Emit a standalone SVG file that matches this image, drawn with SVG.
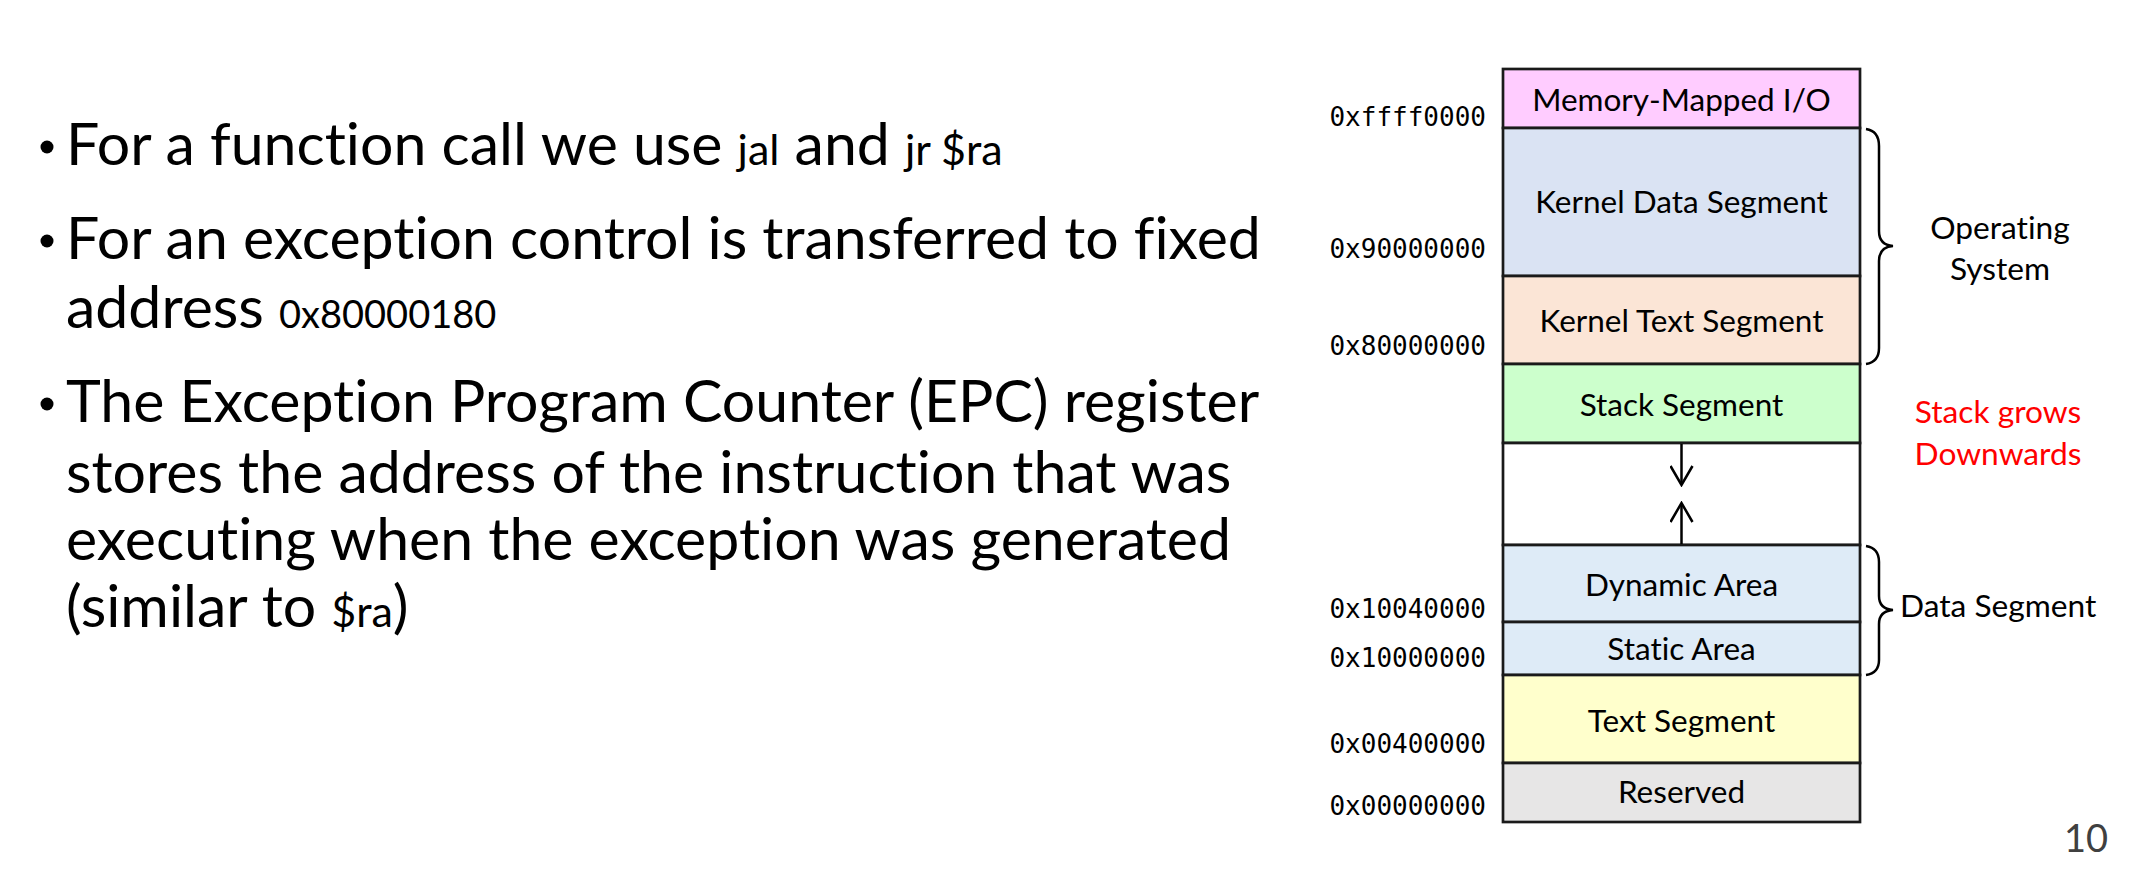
<svg xmlns="http://www.w3.org/2000/svg" width="2140" height="870" viewBox="0 0 2140 870">
  <style>
    text { font-variant-ligatures: none; font-feature-settings: "liga" 0, "clig" 0, "dlig" 0; }
    .body { font-family: Lato, "Open Sans", "Liberation Sans", sans-serif; font-size: 59px; fill: #000; }
    .small { font-size: 43px; }
    .hex { font-size: 38px; }
    .seg { font-family: Lato, "Open Sans", "Liberation Sans", sans-serif; font-size: 31.5px; fill: #000; text-anchor: middle; }
    .side { font-family: Lato, "Open Sans", "Liberation Sans", sans-serif; font-size: 31.7px; fill: #000; }
    .note { fill: #FF0000; text-anchor: middle; }
    .addr { font-family: "DejaVu Sans Mono", "Liberation Mono", monospace; font-size: 26px; fill: #000; text-anchor: end; }
    .box { stroke: #1a1a1a; stroke-width: 2.7; }
    .brace { fill: none; stroke: #000; stroke-width: 2.5; }
    .arrow { stroke: #000; stroke-width: 2.5; fill: none; marker-end: url(#vhead); }
  </style>
  <defs>
    <!-- open V head, drawn pointing along +x -->
    <marker id="vhead" viewBox="0 0 22 24" refX="20" refY="12" markerWidth="22" markerHeight="24" markerUnits="userSpaceOnUse" orient="auto">
      <path d="M1,1 L20,12 L1,23" fill="none" stroke="#000" stroke-width="2.5"/>
    </marker>
  </defs>

  <rect width="2140" height="870" fill="#fff"/>

  <!-- bullet list -->
  <g id="bullets">
    <circle cx="47" cy="147" r="6.5" fill="#000"/>
    <text class="body" x="66" y="165">For a function call we use <tspan class="small">jal</tspan> and <tspan class="small">jr $ra</tspan></text>
    <circle cx="47" cy="241" r="6.5" fill="#000"/>
    <text class="body" x="66" y="259">For an exception control is transferred to fixed</text>
    <text class="body" x="66" y="328">address <tspan class="hex">0x80000180</tspan></text>
    <circle cx="47" cy="404" r="6.5" fill="#000"/>
    <text class="body" x="66" y="422">The Exception Program Counter (EPC) register</text>
    <text class="body" x="66" y="493">stores the address of the instruction that was</text>
    <text class="body" x="66" y="560">executing when the exception was generated</text>
    <text class="body" x="66" y="627">(similar to <tspan class="small">$ra</tspan>)</text>
  </g>

  <!-- memory map segments -->
  <g id="mmio">
    <rect class="box" x="1503" y="69" width="357" height="59" fill="#FFCCFF"/>
    <text class="seg" x="1681.5" y="111">Memory-Mapped I/O</text>
  </g>
  <g id="kernel-data">
    <rect class="box" x="1503" y="128" width="357" height="148" fill="#DAE3F3"/>
    <text class="seg" x="1681.5" y="213">Kernel Data Segment</text>
  </g>
  <g id="kernel-text">
    <rect class="box" x="1503" y="276" width="357" height="88" fill="#FBE5D6"/>
    <text class="seg" x="1681.5" y="332">Kernel Text Segment</text>
  </g>
  <g id="stack">
    <rect class="box" x="1503" y="364" width="357" height="79" fill="#CCFFCC"/>
    <text class="seg" x="1681.5" y="416">Stack Segment</text>
  </g>
  <g id="free">
    <rect class="box" x="1503" y="443" width="357" height="102" fill="#FFFFFF"/>
  </g>
  <g id="dynamic">
    <rect class="box" x="1503" y="545" width="357" height="77" fill="#DEEBF7"/>
    <text class="seg" x="1681.5" y="596">Dynamic Area</text>
  </g>
  <g id="static">
    <rect class="box" x="1503" y="622" width="357" height="53" fill="#DEEBF7"/>
    <text class="seg" x="1681.5" y="660">Static Area</text>
  </g>
  <g id="text-seg">
    <rect class="box" x="1503" y="675" width="357" height="88" fill="#FFFFCC"/>
    <text class="seg" x="1681.5" y="732">Text Segment</text>
  </g>
  <g id="reserved">
    <rect class="box" x="1503" y="763" width="357" height="59" fill="#E7E6E6"/>
    <text class="seg" x="1681.5" y="803">Reserved</text>
  </g>

  <!-- addresses -->
  <g id="addresses">
    <text class="addr" x="1486" y="126">0xffff0000</text>
    <text class="addr" x="1486" y="258">0x90000000</text>
    <text class="addr" x="1486" y="355">0x80000000</text>
    <text class="addr" x="1486" y="618">0x10040000</text>
    <text class="addr" x="1486" y="667">0x10000000</text>
    <text class="addr" x="1486" y="753">0x00400000</text>
    <text class="addr" x="1486" y="815">0x00000000</text>
  </g>

  <!-- growth arrows -->
  <g id="connectors">
    <line class="arrow" x1="1681.5" y1="444" x2="1681.5" y2="485"/>
    <line class="arrow" x1="1681.5" y1="544" x2="1681.5" y2="503"/>
  </g>

  <!-- braces and side labels -->
  <g id="os-group">
    <path class="brace" d="M1866,129 Q1879,131 1879,146 L1879,231 Q1879,245 1893,246 Q1879,247 1879,261 L1879,348 Q1879,362 1866,364"/>
    <text class="side" x="2000" y="239" text-anchor="middle">Operating</text>
    <text class="side" x="2000" y="280" text-anchor="middle">System</text>
  </g>
  <g id="data-group">
    <path class="brace" d="M1866,546 Q1879,548 1879,562 L1879,596 Q1879,609 1893,610 Q1879,611 1879,624 L1879,660 Q1879,673 1866,675"/>
    <text class="side" x="1900" y="617">Data Segment</text>
  </g>
  <g id="stack-note">
    <text class="side note" x="1998" y="423">Stack grows</text>
    <text class="side note" x="1998" y="465">Downwards</text>
  </g>

  <text x="2108" y="852" text-anchor="end" style="font-family: Lato, 'Open Sans', sans-serif; font-size: 38px; fill: #404040;">10</text>
</svg>
